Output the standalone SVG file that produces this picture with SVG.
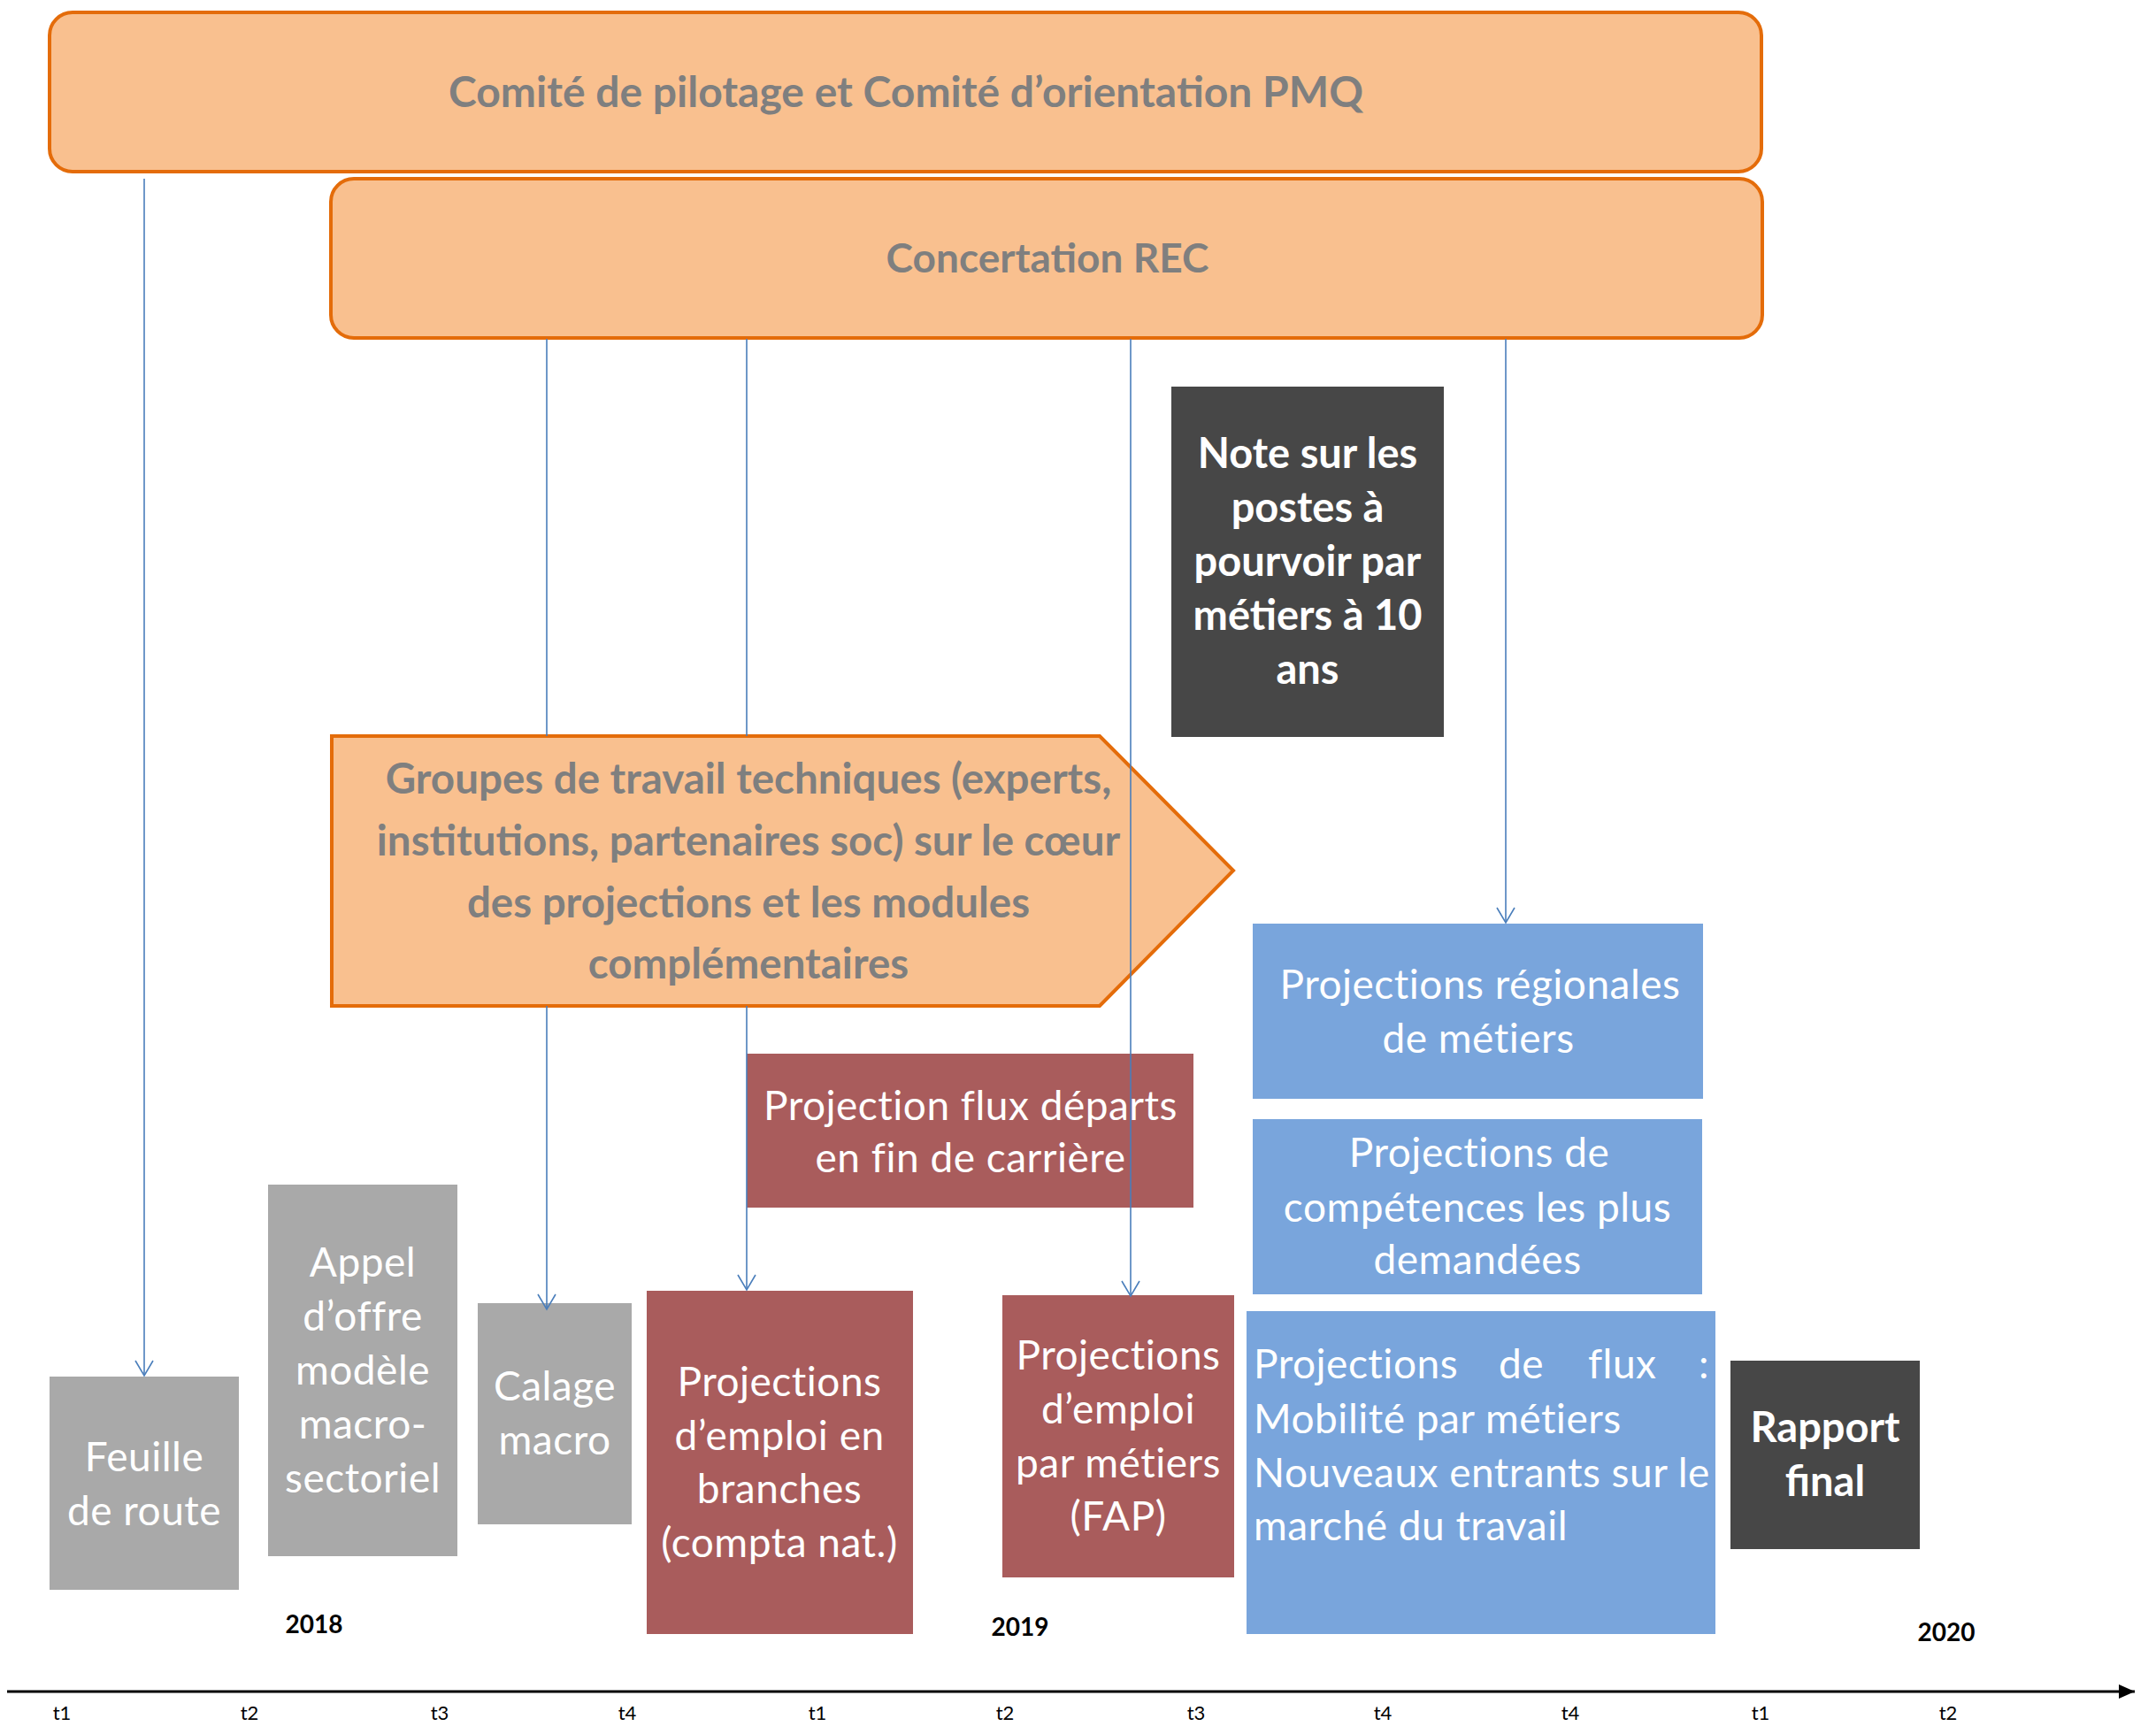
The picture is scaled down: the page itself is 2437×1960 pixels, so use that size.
<svg xmlns="http://www.w3.org/2000/svg" width="2437" height="1960" viewBox="0 0 2437 1960">
<style>
text{font-family:Lato,"Liberation Sans",sans-serif}
.orb{fill:#F9C08F;stroke:#E46C0A;stroke-width:4}
.ot{font-weight:bold;fill:#7F7F7F;text-anchor:middle}
.gray{fill:#A9A9A9}
.red{fill:#A95C5C}
.blue{fill:#79A5DC}
.dark{fill:#474747}
.wt{fill:#FFFFFF;text-anchor:middle;font-size:46px;letter-spacing:0.5px}
.wb{fill:#FFFFFF;text-anchor:middle;font-size:47px;font-weight:bold}
.wl{fill:#FFFFFF;font-size:46px;letter-spacing:0.5px}
.tk{fill:#000;text-anchor:middle;font-size:22px}
.yr{fill:#000;text-anchor:middle;font-size:28px;font-weight:bold}
.conn{fill:none;stroke:#4A7EBB;stroke-width:1.6}
</style>
<defs>
<marker id="open" markerUnits="userSpaceOnUse" markerWidth="22" markerHeight="22" viewBox="0 0 22 22" refX="19" refY="11" orient="auto">
<path d="M2,1 L19,11 L2,21" fill="none" stroke="#4A7EBB" stroke-width="1.6"/>
</marker>
<marker id="solid" markerUnits="userSpaceOnUse" markerWidth="20" markerHeight="20" viewBox="0 0 20 20" refX="18" refY="10" orient="auto">
<path d="M0,2 L18,10 L0,18 Z" fill="#000"/>
</marker>
</defs>
<rect width="2437" height="1960" fill="#FFFFFF"/>

<g id="comite">
<rect class="orb" x="56" y="14" width="1935" height="180" rx="26"/>
<text class="ot" x="1024" y="121" font-size="48">Comité de pilotage et Comité d’orientation PMQ</text>
</g>
<g id="concertation">
<rect class="orb" x="374" y="202" width="1618" height="180" rx="26"/>
<text class="ot" x="1184" y="308" font-size="46">Concertation REC</text>
</g>

<g id="note">
<rect class="dark" x="1324" y="437" width="308" height="396"/>
<text class="wb" x="1478" y="529">Note sur les</text>
<text class="wb" x="1478" y="590">postes à</text>
<text class="wb" x="1478" y="651">pourvoir par</text>
<text class="wb" x="1478" y="712">métiers à 10</text>
<text class="wb" x="1478" y="773">ans</text>
</g>

<g id="groupes">
<path class="orb" d="M375,832 L1243,832 L1394,984 L1243,1137 L375,1137 Z"/>
<text class="ot" x="846" y="897" font-size="47.5">Groupes de travail techniques (experts,</text>
<text class="ot" x="846" y="967" font-size="47.5">institutions, partenaires soc) sur le cœur</text>
<text class="ot" x="846" y="1037" font-size="47.5">des projections et les modules</text>
<text class="ot" x="846" y="1106" font-size="47.5">complémentaires</text>
</g>

<g id="regionales">
<rect class="blue" x="1416" y="1044" width="509" height="198"/>
<text class="wt" x="1673" y="1129">Projections régionales</text>
<text class="wt" x="1671" y="1190">de métiers</text>
</g>
<g id="competences">
<rect class="blue" x="1416" y="1265" width="508" height="198"/>
<text class="wt" x="1672" y="1319">Projections de</text>
<text class="wt" x="1670" y="1381">compétences les plus</text>
<text class="wt" x="1670" y="1440">demandées</text>
</g>
<g id="flux">
<rect class="blue" x="1409" y="1482" width="530" height="365"/>
<text class="wl" x="1417" y="1558">Projections</text>
<text class="wl" x="1694" y="1558">de</text>
<text class="wl" x="1795" y="1558">flux</text>
<text class="wl" x="1920" y="1558">:</text>
<text class="wl" x="1417" y="1620">Mobilité par métiers</text>
<text class="wl" x="1417" y="1681">Nouveaux entrants sur le</text>
<text class="wl" x="1417" y="1741">marché du travail</text>
</g>

<g id="departs">
<rect class="red" x="844" y="1191" width="505" height="174"/>
<text class="wt" x="1097" y="1266">Projection flux départs</text>
<text class="wt" x="1097" y="1325">en fin de carrière</text>
</g>

<g id="feuille">
<rect class="gray" x="56" y="1556" width="214" height="241"/>
<text class="wt" x="163" y="1663">Feuille</text>
<text class="wt" x="163" y="1724">de route</text>
</g>
<g id="appel">
<rect class="gray" x="303" y="1339" width="214" height="420"/>
<text class="wt" x="410" y="1443">Appel</text>
<text class="wt" x="410" y="1504">d’offre</text>
<text class="wt" x="410" y="1565">modèle</text>
<text class="wt" x="410" y="1626">macro-</text>
<text class="wt" x="410" y="1687">sectoriel</text>
</g>
<g id="calage">
<rect class="gray" x="540" y="1473" width="174" height="250"/>
<text class="wt" x="627" y="1583">Calage</text>
<text class="wt" x="627" y="1644">macro</text>
</g>
<g id="branches">
<rect class="red" x="731" y="1459" width="301" height="388"/>
<text class="wt" x="881" y="1578">Projections</text>
<text class="wt" x="881" y="1639">d’emploi en</text>
<text class="wt" x="881" y="1699">branches</text>
<text class="wt" x="881" y="1760">(compta nat.)</text>
</g>
<g id="fap">
<rect class="red" x="1133" y="1464" width="262" height="319"/>
<text class="wt" x="1264" y="1548">Projections</text>
<text class="wt" x="1264" y="1609">d’emploi</text>
<text class="wt" x="1264" y="1670">par métiers</text>
<text class="wt" x="1264" y="1730">(FAP)</text>
</g>
<g id="rapport">
<rect class="dark" x="1956" y="1538" width="214" height="213"/>
<text class="wb" x="2063" y="1630">Rapport</text>
<text class="wb" x="2063" y="1691">final</text>
</g>

<g id="timeline">
<line x1="8" y1="1912" x2="2413" y2="1912" stroke="#000" stroke-width="3" marker-end="url(#solid)"/>
<text class="yr" x="355" y="1846">2018</text>
<text class="yr" x="1153" y="1849">2019</text>
<text class="yr" x="2200" y="1855">2020</text>
<text class="tk" x="70" y="1944">t1</text>
<text class="tk" x="282" y="1944">t2</text>
<text class="tk" x="497" y="1944">t3</text>
<text class="tk" x="709" y="1944">t4</text>
<text class="tk" x="924" y="1944">t1</text>
<text class="tk" x="1136" y="1944">t2</text>
<text class="tk" x="1352" y="1944">t3</text>
<text class="tk" x="1563" y="1944">t4</text>
<text class="tk" x="1775" y="1944">t4</text>
<text class="tk" x="1990" y="1944">t1</text>
<text class="tk" x="2202" y="1944">t2</text>
</g>

<g id="connectors">
<path class="conn" d="M163,202 V1555" marker-end="url(#open)"/>
<path class="conn" d="M618,383 V832 M618,1137 V1480" marker-end="url(#open)"/>
<path class="conn" d="M844,383 V832 M844,1137 V1458" marker-end="url(#open)"/>
<path class="conn" d="M1278,383 V1465" marker-end="url(#open)"/>
<path class="conn" d="M1702,383 V1043" marker-end="url(#open)"/>
</g>
</svg>
